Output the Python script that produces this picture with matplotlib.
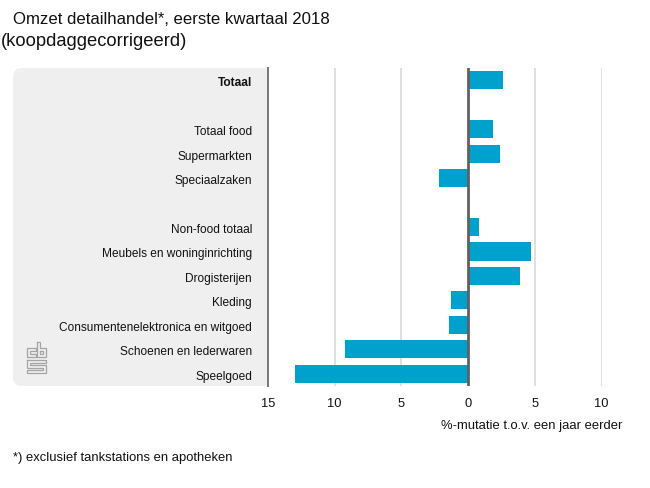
#!/usr/bin/env python3
import matplotlib
matplotlib.use('Agg')
import matplotlib.pyplot as plt
from matplotlib.patches import FancyBboxPatch, Rectangle
from matplotlib.lines import Line2D
from matplotlib.transforms import ScaledTranslation

plt.rcParams['font.family'] = ['Liberation Sans', 'DejaVu Sans']

W, H = 650, 488

# blank rows are the gaps between the groups
categories = ['Totaal', '', 'Totaal food', 'Supermarkten', 'Speciaalzaken', '',
              'Non-food totaal', 'Meubels en woninginrichting', 'Drogisterijen',
              'Kleding', 'Consumentenelektronica en witgoed',
              'Schoenen en lederwaren', 'Speelgoed']
values = [2.6, None, 1.85, 2.4, -2.2, None, 0.8, 4.7, 3.9, -1.3, -1.4, -9.2, -13.0]
ticks = [-15, -10, -5, 0, 5, 10]
tick_labels = ['15', '10', '5', '0', '5', '10']

BAR_COLOR = '#00a1cd'
PANEL_COLOR = '#efefef'
TEXT_COLOR = '#111111'


def fx(px):
    return px / W


def fy(py):
    return 1 - py / H


def draw_panel(fig):
    """Grey panel behind the labels, rounded on the left side only"""
    bg = fig.add_axes([0, 0, 1, 1], zorder=0)
    bg.set_xlim(0, W)
    bg.set_ylim(H, 0)
    bg.axis('off')
    box = FancyBboxPatch((13, 68), 275, 318, boxstyle='round,pad=0,rounding_size=9',
                         fc=PANEL_COLOR, ec='none')
    bg.add_patch(box)
    bg.add_patch(Rectangle((268, 60), 30, 335, fc='white', ec='none'))
    return bg


def draw_logo(bg):
    """Small cbs logo, outlined"""
    c = '#a4a4a4'
    shapes = [
        # c
        [(36, 348), (27, 348), (27, 357), (36, 357), (36, 354), (30, 354), (30, 351), (36, 351), (36, 348)],
        # b
        [(37, 342), (40, 342), (40, 348), (46, 348), (46, 357), (37, 357), (37, 342)],
        [(40, 351), (43, 351), (43, 354), (40, 354), (40, 351)],
        # s
        [(27, 360), (46, 360), (46, 363), (30, 363), (30, 365), (46, 365), (46, 373),
         (27, 373), (27, 370), (43, 370), (43, 368), (27, 368), (27, 360)],
    ]
    for shape in shapes:
        xs, ys = zip(*shape)
        bg.add_line(Line2D(xs, ys, color=c, lw=0.9, solid_joinstyle='miter'))


def main():
    fig = plt.figure(figsize=(W / 100, H / 100), dpi=100, facecolor='white')
    bg = draw_panel(fig)
    draw_logo(bg)

    ax = fig.add_axes([fx(268), fy(386), (601.5 - 268) / W, 318 / H], zorder=1)
    ax.patch.set_alpha(0)
    rows = list(range(len(categories)))
    for row, val in zip(rows, values):
        if val is not None:
            ax.barh(row, val, height=0.74, color=BAR_COLOR, zorder=3)

    ax.set_xlim(-15, 10)
    ax.set_ylim(len(categories) - 0.5, -0.5)
    for spine in ax.spines.values():
        spine.set_visible(False)

    ax.set_xticks(ticks)
    ax.set_xticklabels(tick_labels, fontsize=9.3, color=TEXT_COLOR)
    ax.tick_params(axis='x', length=0, pad=8.3)
    ax.set_yticks(rows)
    ax.set_yticklabels(categories, fontsize=8.55, color=TEXT_COLOR)
    ax.get_yticklabels()[0].set_fontweight('bold')
    ax.tick_params(axis='y', length=0, pad=11.5)
    # the labels sit a little lower than the bars
    shift = ScaledTranslation(0, -1.5 / 100, fig.dpi_scale_trans)
    for lab in ax.get_yticklabels():
        lab.set_transform(lab.get_transform() + shift)

    for t in ticks:
        if t == -15:
            ax.axvline(t, color='#777777', lw=1.4, zorder=2, clip_on=False)
        elif t == 0:
            ax.axvline(t, color='#616161', lw=2.0, zorder=4)
        else:
            ax.axvline(t, color='#d9d9d9', lw=1.2, zorder=1)

    fig.text(fx(13), fy(20), 'Omzet detailhandel*, eerste kwartaal 2018', fontsize=12.1,
             color=TEXT_COLOR, va='center', ha='left')
    fig.text(fx(1), fy(42), '(koopdaggecorrigeerd)', fontsize=13.2,
             color=TEXT_COLOR, va='center', ha='left')
    fig.text(fx(622), fy(426.5), '%-mutatie t.o.v. een jaar eerder', fontsize=9.35,
             color=TEXT_COLOR, va='center', ha='right')
    fig.text(fx(13), fy(458), '*) exclusief tankstations en apotheken', fontsize=9.4,
             color=TEXT_COLOR, va='center', ha='left')

    fig.savefig('out.png', dpi=100)


if __name__ == "__main__":
    main()
